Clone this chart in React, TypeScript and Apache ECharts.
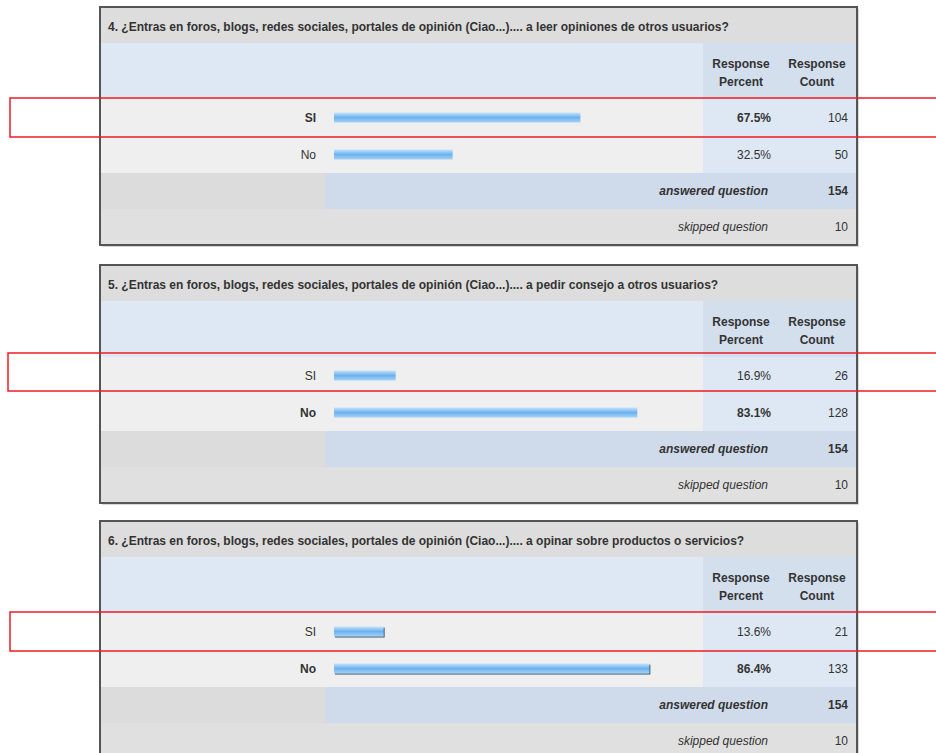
import React, { useEffect, useRef } from "react";
import * as echarts from "echarts";

const TITLES = [
  "4. ¿Entras en foros, blogs, redes sociales, portales de opinión (Ciao...).... a leer opiniones de otros usuarios?",
  "5. ¿Entras en foros, blogs, redes sociales, portales de opinión (Ciao...).... a pedir consejo a otros usuarios?",
  "6. ¿Entras en foros, blogs, redes sociales, portales de opinión (Ciao...).... a opinar sobre productos o servicios?",
];
const CATEGORIES = ["SI", "No"];
const PERCENT_Q4 = [67.5, 32.5];
const PERCENT_Q5 = [16.9, 83.1];
const PERCENT_Q6 = [13.6, 86.4];
const COUNT_Q4 = [104, 50];
const COUNT_Q5 = [26, 128];
const COUNT_Q6 = [21, 133];
const ANSWERED = [154, 154, 154];
const SKIPPED = [10, 10, 10];
const HEADER_PERCENT = ["Response", "Percent"];
const HEADER_COUNT = ["Response", "Count"];
const ANSWERED_LABEL = "answered question";
const SKIPPED_LABEL = "skipped question";

const PERCENTS = [PERCENT_Q4, PERCENT_Q5, PERCENT_Q6];
const COUNTS = [COUNT_Q4, COUNT_Q5, COUNT_Q6];

const PANEL_TOP = [7, 265, 521];
const RED_BOX = [
  { x: 10, y: 98, h: 39 },
  { x: 8, y: 353, h: 38 },
  { x: 10, y: 612, h: 39 },
];
const FONT = "'Liberation Sans', Arial, sans-serif";
const TXT = "#333333";

export default function App() {
  const ref = useRef<HTMLDivElement>(null);
  useEffect(() => {
    if (!ref.current) return;
    const chart = echarts.init(ref.current, undefined, { renderer: "svg" });
    const L = 100, R = 857, W = R - L;
    const COLX = 703;
    const elements: any[] = [];
    const grids: any[] = [];
    const xAxes: any[] = [];
    const yAxes: any[] = [];
    const series: any[] = [];

    PANEL_TOP.forEach((P, k) => {
      elements.push({ type: "rect", z: 0, shape: { x: L + 2, y: P + 2, width: W, height: 238 }, style: { fill: "#d8d8d8" } });
      elements.push({ type: "rect", z: 1, shape: { x: L, y: P, width: W, height: 36 }, style: { fill: "#dddddd" } });
      elements.push({ type: "rect", z: 1, shape: { x: L, y: P + 36, width: COLX - L, height: 56 }, style: { fill: "#dde8f4" } });
      elements.push({ type: "rect", z: 1, shape: { x: COLX, y: P + 36, width: R - COLX, height: 56 }, style: { fill: "#d3dfed" } });
      elements.push({ type: "rect", z: 1, shape: { x: L, y: P + 92, width: COLX - L, height: 74 }, style: { fill: "#efefef" } });
      elements.push({ type: "rect", z: 1, shape: { x: COLX, y: P + 92, width: R - COLX, height: 74 }, style: { fill: "#dde8f4" } });
      elements.push({ type: "rect", z: 1, shape: { x: L, y: P + 166, width: 325 - L, height: 36 }, style: { fill: "#dcdcdc" } });
      elements.push({ type: "rect", z: 1, shape: { x: 325, y: P + 166, width: R - 325, height: 36 }, style: { fill: "#cfdbea" } });
      elements.push({ type: "rect", z: 1, shape: { x: L, y: P + 202, width: W, height: 36 }, style: { fill: "#e0e0e0" } });
      elements.push({ type: "rect", z: 5, shape: { x: L, y: P, width: W, height: 238 }, style: { fill: "none", stroke: "#555555", lineWidth: 2 } });

      elements.push({ type: "text", z: 10, x: 108, y: P + 20, style: { text: TITLES[k], font: `bold 12px ${FONT}`, fill: TXT, textVerticalAlign: "middle" } });
      [[741, HEADER_PERCENT], [817, HEADER_COUNT]].forEach(([cx, lines]: any) => {
        lines.forEach((t: string, i: number) => {
          elements.push({ type: "text", z: 10, x: cx, y: P + 57 + i * 18, style: { text: t, font: `bold 12px ${FONT}`, fill: TXT, textAlign: "center", textVerticalAlign: "middle" } });
        });
      });
      const pcts = PERCENTS[k];
      const cnts = COUNTS[k];
      const maxIdx = pcts.indexOf(Math.max(...pcts));
      pcts.forEach((v, i) => {
        const cy = P + 111 + i * 37;
        elements.push({ type: "text", z: 10, x: 771, y: cy, style: { text: v.toFixed(1) + "%", font: `${i === maxIdx ? "bold " : ""}12px ${FONT}`, fill: TXT, textAlign: "right", textVerticalAlign: "middle" } });
        elements.push({ type: "text", z: 10, x: 848, y: cy, style: { text: String(cnts[i]), font: `12px ${FONT}`, fill: TXT, textAlign: "right", textVerticalAlign: "middle" } });
      });
      elements.push({ type: "text", z: 10, x: 768, y: P + 184, style: { text: ANSWERED_LABEL, font: `italic bold 12px ${FONT}`, fill: TXT, textAlign: "right", textVerticalAlign: "middle" } });
      elements.push({ type: "text", z: 10, x: 848, y: P + 184, style: { text: String(ANSWERED[k]), font: `bold 12px ${FONT}`, fill: TXT, textAlign: "right", textVerticalAlign: "middle" } });
      elements.push({ type: "text", z: 10, x: 768, y: P + 220, style: { text: SKIPPED_LABEL, font: `italic 12px ${FONT}`, fill: TXT, textAlign: "right", textVerticalAlign: "middle" } });
      elements.push({ type: "text", z: 10, x: 848, y: P + 220, style: { text: String(SKIPPED[k]), font: `12px ${FONT}`, fill: TXT, textAlign: "right", textVerticalAlign: "middle" } });

      const rb = RED_BOX[k];
      elements.push({ type: "rect", z: 100, shape: { x: rb.x, y: rb.y, width: 936 - rb.x + 5, height: rb.h }, style: { fill: "none", stroke: "#ee1c24", lineWidth: 1.5 } });

      grids.push({ left: 334, width: 365, top: P + 92, height: 74, containLabel: false });
      xAxes.push({ type: "value", gridIndex: k, min: 0, max: 100, show: false });
      yAxes.push({
        type: "category",
        gridIndex: k,
        inverse: true,
        data: CATEGORIES,
        axisLine: { show: false },
        axisTick: { show: false },
        splitLine: { show: false },
        z: 10,
        axisLabel: {
          margin: 18,
          fontFamily: FONT,
          fontSize: 12,
          color: TXT,
          formatter: (val: string, idx: number) => (idx === maxIdx ? `{b|${val}}` : `{n|${val}}`),
          rich: {
            b: { fontWeight: "bold", fontSize: 12, fontFamily: FONT, color: TXT },
            n: { fontWeight: "normal", fontSize: 12, fontFamily: FONT, color: TXT },
          },
        },
      });
      series.push({
        type: "bar",
        xAxisIndex: k,
        yAxisIndex: k,
        data: pcts,
        barWidth: 10,
        z: 20,
        itemStyle: {
          color: new echarts.graphic.LinearGradient(0, 0, 0, 1, [
            { offset: 0, color: "#c4e3fc" },
            { offset: 0.5, color: "#6cb2ee" },
            { offset: 1, color: "#a6d2f7" },
          ]),
          shadowColor: k === 2 ? "#3d5266" : "rgba(0,0,0,0)",
          shadowOffsetX: 1,
          shadowOffsetY: 1,
          shadowBlur: 0,
        },
      });
    });

    chart.setOption({
      animation: false,
      backgroundColor: "#ffffff",
      graphic: { elements },
      grid: grids,
      xAxis: xAxes,
      yAxis: yAxes,
      series,
    });
    return () => chart.dispose();
  }, []);
  return <div ref={ref} style={{ position: "absolute", left: 0, top: 0, width: 936, height: 753 }} />;
}
